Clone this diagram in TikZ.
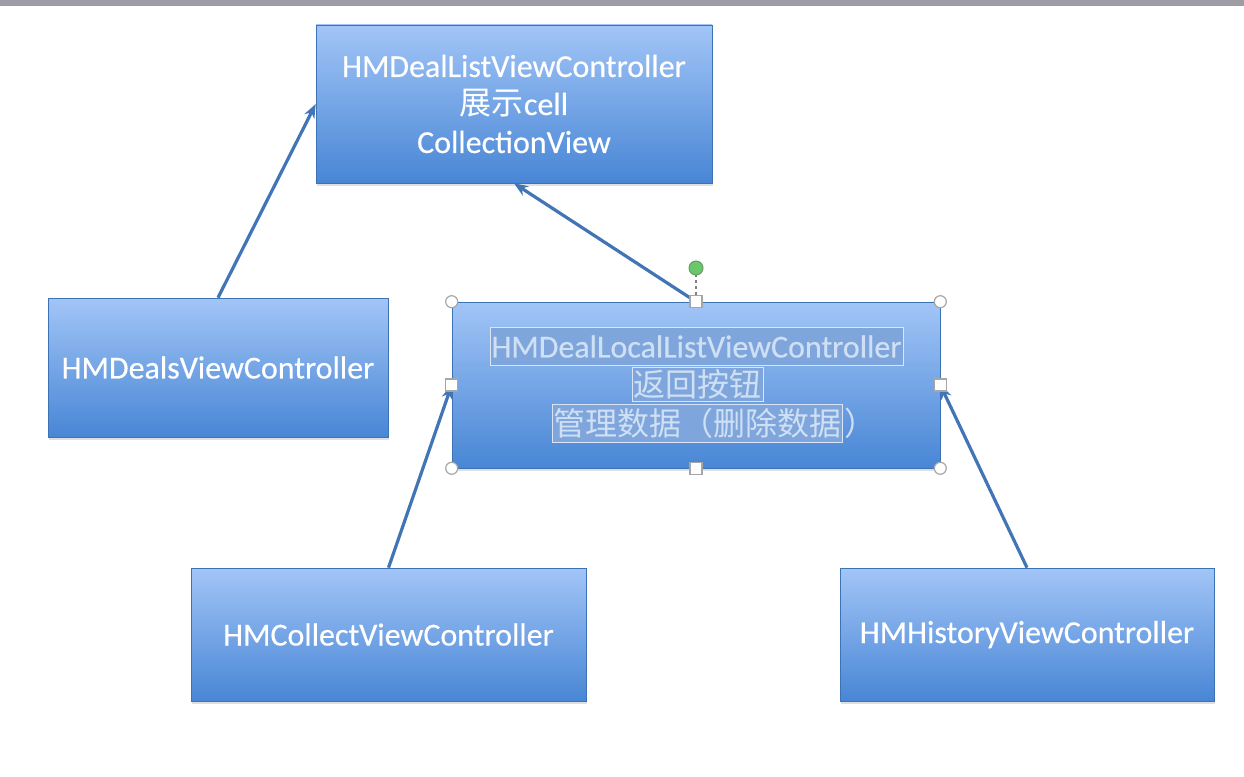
\documentclass[tikz,border=0pt]{standalone}
\usepackage{fontspec}
\setmainfont{Carlito}[FakeBold=0.4]
\newfontfamily\cjk{Noto Sans CJK SC}
\usepackage{xcolor}
\usetikzlibrary{positioning}
\usetikzlibrary{arrows.meta}
\usetikzlibrary{shadows}
\definecolor{boxtop}{HTML}{A2C5F7}
\definecolor{boxbot}{HTML}{4886D5}
\definecolor{linkblue}{HTML}{4275B5}
\definecolor{hlfill}{HTML}{7FA6DC}
\definecolor{hltext}{HTML}{CFDFF4}
\definecolor{barcol}{HTML}{9D9DA6}
\tikzset{vcbox/.style={draw=boxbot!85!black, line width=0.6pt,
top color=boxtop, bottom color=boxbot, text=white, align=center,
font=\fontsize{32}{38}\selectfont,
drop shadow={shadow xshift=1pt, shadow yshift=-3pt, opacity=0.25}},
link/.style={-{Stealth[length=14pt,width=11pt]}, linkblue, line width=3.2pt},
hl/.style={fill=hlfill, draw=hltext!80!white, line width=0.6pt, text=hltext,
inner sep=1pt, font=\fontsize{32}{38}\selectfont},
knob/.style={draw=gray!70, fill=white, line width=1.2pt}}

\begin{document}
\begin{tikzpicture}[x=1pt, y=-1pt]
	\useasboundingbox (0,0) rectangle (1244,776);
	\fill[white] (0,0) rectangle (1244,776);
	\fill[barcol] (0,0) rectangle (1244,6);
	% controllers
	\node[vcbox, minimum width=396pt, minimum height=158pt] (list) at (514,104)
		{HMDealListViewController\\{\cjk 展示}cell\\CollectionView};
	\node[vcbox, minimum width=340pt, minimum height=139pt] (deals) at (218,367.5)
		{HMDealsViewController};
	\node[vcbox, minimum width=488pt, minimum height=166pt] (local) at (696,385) {};
	\node[vcbox, minimum width=395pt, minimum height=133pt] (collect) at (388.5,634.5)
		{HMCollectViewController};
	\node[vcbox, minimum width=374pt, minimum height=133pt] (history) at (1027,634.5)
		{HMHistoryViewController};
	% selected text
	\node[hl, minimum width=413pt, minimum height=38pt] (l1) at (696.5,346.5) {HMDealLocalListViewController};
	\node[hl, minimum width=131pt, minimum height=34pt] (l2) at (697.5,384) {\cjk 返回按钮};
	\node[hl, minimum width=288pt, minimum height=38pt] (l3) at (697,423.5) {\cjk 管理数据（删除数据};
	\node[anchor=west, text=hltext, inner sep=0pt, font=\fontsize{32}{38}\selectfont\cjk] (paren) at ([xshift=2pt]l3.east) {）};
	% links
	\draw[link] (deals.north) -- (list.west);
	\draw[link] (local.north) -- (list.south);
	\draw[link] (collect.north) -- (local.west);
	\draw[link] (history.north) -- (local.east);
	% handles
	\coordinate (rot) at (696,268);
	\draw[gray, dashed, line width=1.5pt] (rot) -- (local.north);
	\fill[green!45!gray!80!white, draw=green!35!black!60!white, line width=1pt] (rot) circle (7pt);
	\foreach \a in {north west, north east, south west, south east}
		\draw[knob] (local.\a) circle (6pt);
	\foreach \a in {north, south, west, east}
		\draw[knob] ([shift={(-6pt,-6pt)}]local.\a) rectangle ([shift={(6pt,6pt)}]local.\a);
\end{tikzpicture}
\end{document}
